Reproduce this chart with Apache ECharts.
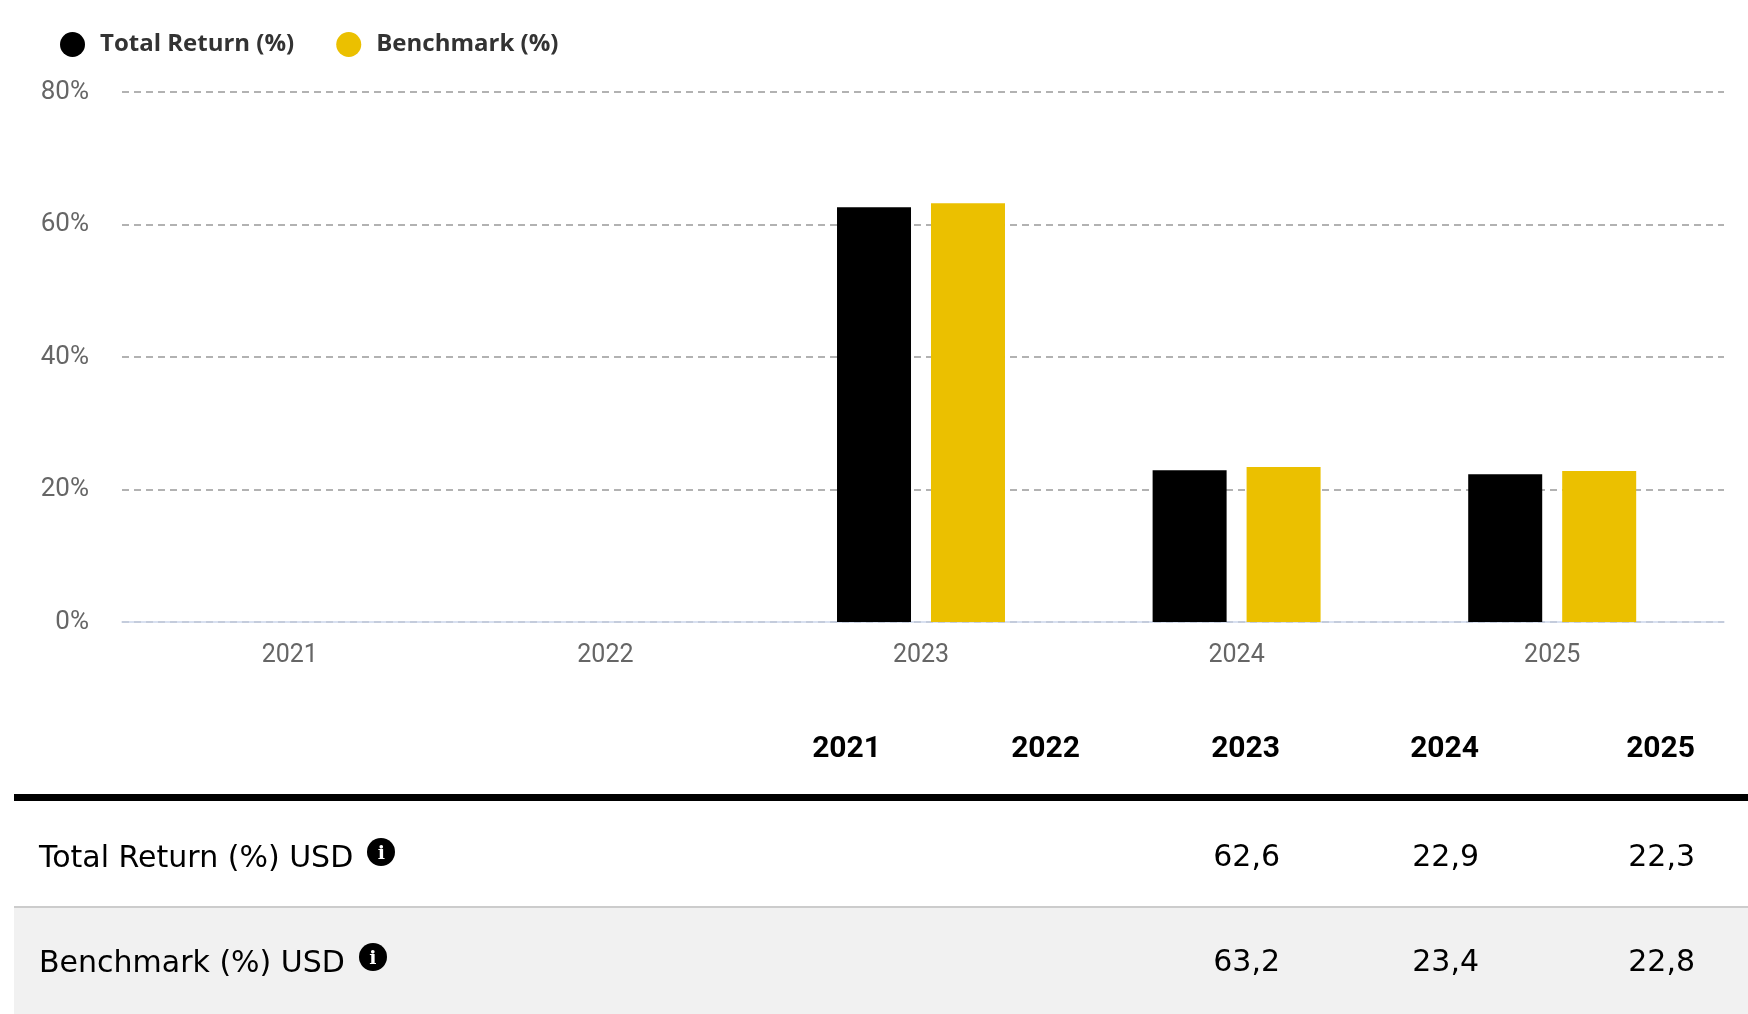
<!DOCTYPE html>
<html>
<head>
<meta charset="utf-8">
<script src="https://cdn.jsdelivr.net/npm/echarts@6/dist/echarts.min.js"></script>
<style>
    html, body { margin: 0; padding: 0; background: #fff; }
    #page { position: relative; width: 1748px; height: 1014px; overflow: hidden; }
    #main { position: absolute; left: 0; top: 0; width: 1748px; height: 700px; }
    #table { position: absolute; left: 0; top: 0; width: 1748px; height: 1014px; color: #000; }
    .cell { position: absolute; white-space: nowrap; }
    .num { width: 200px; text-align: right; }
    .head { font: bold 30px Roboto, sans-serif; }
    .val, .lbl { font: 30px "DejaVu Sans", sans-serif; }
    .info {
        display: inline-block; width: 28px; height: 28px; border-radius: 50%;
        background: #000; color: #fff; font: bold 19px "DejaVu Serif", serif;
        text-align: center; line-height: 28px; vertical-align: 8px; margin-left: 14px;
    }
</style>
</head>
<body>
<div id="page">
    <div id="main"></div>
    <div id="table"></div>
</div>
<script>
const years = ['2021', '2022', '2023', '2024', '2025'];
const totalReturn = [null, null, 62.6, 22.9, 22.3];
const benchmark = [null, null, 63.2, 23.4, 22.8];
const seriesNames = ['Total Return (%)', 'Benchmark (%)'];
const rowLabels = ['Total Return (%) USD', 'Benchmark (%) USD'];
const yMin = 0, yMax = 80, yStep = 20;

let myChart = echarts.init(document.getElementById('main'));

let option = {
    animation: false,
    color: ['#000000', '#ebc000'],
    legend: {
        left: 55,
        top: 27,
        icon: 'circle',
        itemWidth: 25,
        itemHeight: 25,
        itemGap: 42,
        textStyle: {
            fontFamily: '"Open Sans", sans-serif',
            fontSize: 24,
            fontWeight: 'bold',
            color: '#333',
            padding: [0, 0, 0, 10]
        },
        data: seriesNames
    },
    // grid 0 carries the dashed lines and the base line, grid 1 the bars
    grid: [
        { left: 122, right: 24, top: 92, bottom: 78 },
        { left: 132, right: 38, top: 92, bottom: 78 }
    ],
    xAxis: [
        {
            type: 'value',
            gridIndex: 0,
            min: 0,
            max: 1,
            axisLine: { show: true, lineStyle: { color: '#ccd6eb', width: 1.5 } },
            axisTick: { show: false },
            axisLabel: { show: false },
            splitLine: { show: false }
        },
        {
            type: 'category',
            gridIndex: 1,
            data: years,
            axisLine: { show: false },
            axisTick: { show: false },
            axisLabel: {
                margin: 21,
                fontFamily: 'Roboto, sans-serif',
                fontSize: 25,
                color: '#666'
            }
        }
    ],
    yAxis: [
        {
            type: 'value',
            gridIndex: 0,
            min: yMin,
            max: yMax,
            interval: yStep,
            axisLine: { show: false },
            axisTick: { show: false },
            axisLabel: {
                margin: 33,
                formatter: '{value}%',
                fontFamily: 'Roboto, sans-serif',
                fontSize: 26,
                color: '#666'
            },
            splitLine: {
                lineStyle: { color: '#999', width: 1.5, type: [7, 5] }
            }
        },
        {
            type: 'value',
            gridIndex: 1,
            min: yMin,
            max: yMax,
            show: false,
            splitLine: { show: false }
        }
    ],
    series: [
        {
            name: seriesNames[0],
            type: 'bar',
            xAxisIndex: 1,
            yAxisIndex: 1,
            barWidth: 74,
            barGap: '27%',
            data: totalReturn
        },
        {
            name: seriesNames[1],
            type: 'bar',
            xAxisIndex: 1,
            yAxisIndex: 1,
            barWidth: 74,
            barGap: '27%',
            data: benchmark
        }
    ]
};

myChart.setOption(option);

// table under the chart
function fmt(v) {
    return v == null ? '' : v.toFixed(1).replace('.', ',');
}

let colRight = [881, 1080, 1280, 1479, 1695];
let html = '';
// rules and shaded row
html += '<div class="cell" style="left:14px;top:794px;width:1734px;height:7px;background:#000"></div>';
html += '<div class="cell" style="left:14px;top:906px;width:1734px;height:106px;background:#f1f1f1;border-top:2px solid #ccc;border-bottom:2px solid #aaa"></div>';
years.forEach(function (y, i) {
    html += '<div class="cell num head" style="left:' + (colRight[i] - 200) + 'px;top:729px">' + y + '</div>';
});
[totalReturn, benchmark].forEach(function (row, r) {
    let top = r === 0 ? 838 : 943;
    html += '<div class="cell lbl" style="left:39px;top:' + top + 'px">' + rowLabels[r] + '<span class="info">i</span></div>';
    row.forEach(function (v, i) {
        html += '<div class="cell num val" style="left:' + (colRight[i] - 200) + 'px;top:' + top + 'px">' + fmt(v) + '</div>';
    });
});
document.getElementById('table').innerHTML = html;
</script>
</body>
</html>
